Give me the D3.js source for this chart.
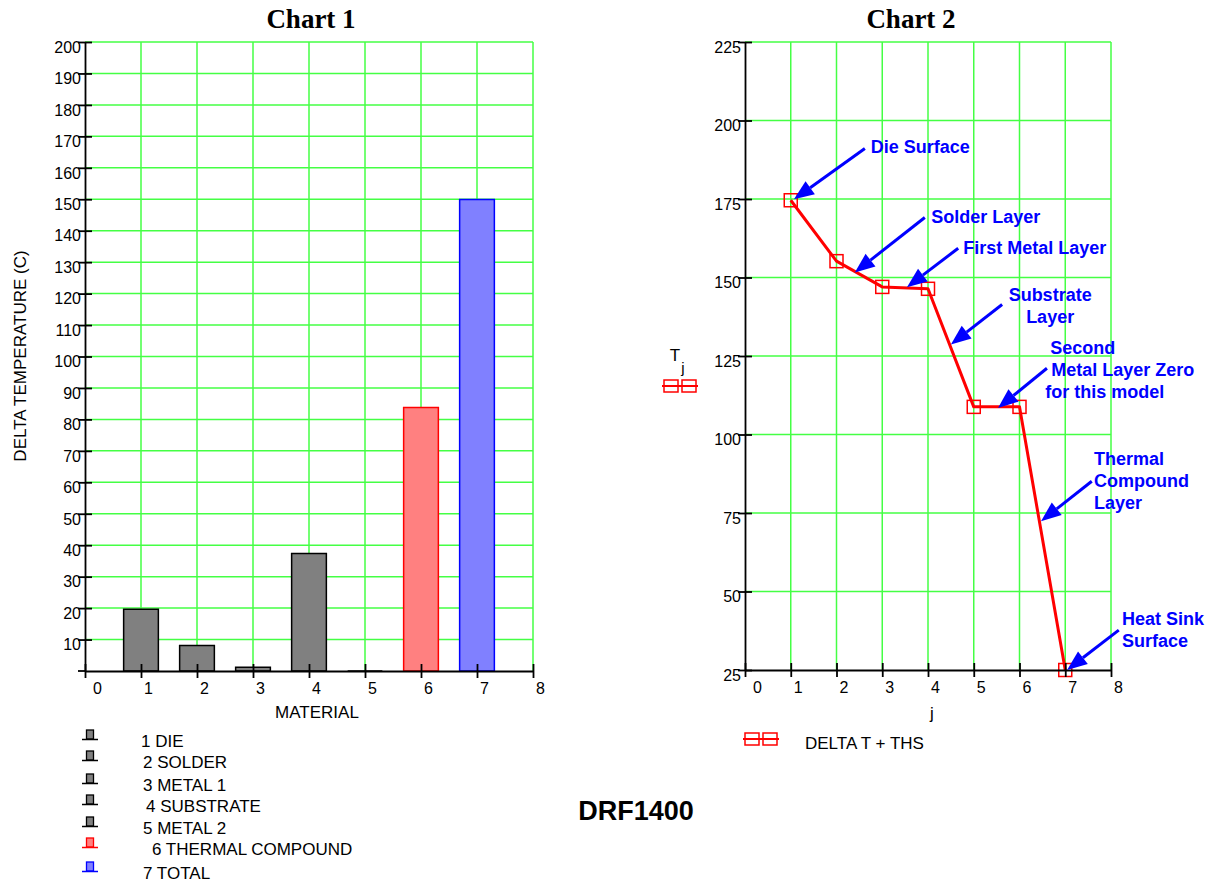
<!DOCTYPE html>
<html>
<head>
<meta charset="utf-8">
<script src="https://cdn.jsdelivr.net/npm/d3@7"></script>
<style>
  body { margin: 0; background: #fff; }
  text { font-family: "Liberation Sans", Arial, Helvetica, sans-serif; }
</style>
</head>
<body>
<svg id="chart" width="1209" height="882"></svg>
<script>
// ---- data ----
const materialIndex = [1, 2, 3, 4, 5, 6, 7];
const materialNames = ["1 DIE", "2 SOLDER", "3 METAL 1", "4 SUBSTRATE", "5 METAL 2", "6 THERMAL COMPOUND", "7 TOTAL"];
const deltaTemp = [19.6, 8.1, 1.2, 37.4, 0, 83.8, 149.9];
const barFill = ["#808080", "#808080", "#808080", "#808080", "#808080", "#ff8080", "#8080ff"];
const barStroke = ["#000000", "#000000", "#000000", "#000000", "#000000", "#ff0000", "#0000ff"];

const layerIndex = [1, 2, 3, 4, 5, 6, 7];
const tj = [174.6, 155.2, 147.0, 146.4, 108.8, 108.8, 25.0];

const xTicks = [0, 1, 2, 3, 4, 5, 6, 7, 8];
const xGrid = [1, 2, 3, 4, 5, 6, 7, 8];
const yTicks1 = [10, 20, 30, 40, 50, 60, 70, 80, 90, 100, 110, 120, 130, 140, 150, 160, 170, 180, 190, 200];
const yTicks2 = [25, 50, 75, 100, 125, 150, 175, 200, 225];
const yGrid2 = [50, 75, 100, 125, 150, 175, 200, 225];

// annotations: text position (data units, first line centre), arrow from -> to (data units)
const notes = [
  { lines: ["Die Surface"], x: 2.75, y: 191.7, anchor: "start", from: [2.62, 191.1], to: [1.07, 174.9] },
  { lines: ["Solder Layer"], x: 4.07, y: 169.4, anchor: "start", from: [3.93, 169.1], to: [2.40, 151.6] },
  { lines: ["First Metal Layer"], x: 4.77, y: 159.3, anchor: "start", from: [4.66, 159.3], to: [3.54, 146.9] },
  { lines: ["Substrate", "Layer"], x: 6.67, y: 144.3, anchor: "middle", from: [5.62, 141.4], to: [4.50, 128.7] },
  { lines: ["Second", "Metal Layer Zero", "for this model"], x: 6.67, y: 127.4, anchor: "start", dx: [0, 1, -5], from: [6.60, 121.1], to: [5.53, 108.4] },
  { lines: ["Thermal", "Compound", "Layer"], x: 7.63, y: 92.1, anchor: "start", from: [7.58, 85.1], to: [6.47, 72.4] },
  { lines: ["Heat Sink", "Surface"], x: 8.24, y: 41.2, anchor: "start", from: [8.17, 37.7], to: [7.04, 25.0] }
];

// ---- setup ----
const svg = d3.select("#chart");
const GRID = "#44ff44";
const FS = 16;   // tick labels
const LFS = 17;  // axis titles and legends

const x1 = d3.scaleLinear().domain([0, 8]).range([85, 533]);
const y1 = d3.scaleLinear().domain([0, 200]).range([671, 42]);
const x2 = d3.scaleLinear().domain([0, 8]).range([745, 1111]);
const y2 = d3.scaleLinear().domain([25, 225]).range([670, 42]);

function drawGrid(g, x, y, xg, yg) {
  g.selectAll("line.vgrid").data(xg).join("line")
    .attr("class", "vgrid")
    .attr("x1", d => x(d)).attr("x2", d => x(d))
    .attr("y1", y.range()[0]).attr("y2", y.range()[1])
    .attr("stroke", GRID).attr("stroke-width", 1.5);
  g.selectAll("line.hgrid").data(yg).join("line")
    .attr("class", "hgrid")
    .attr("x1", x.range()[0]).attr("x2", x.range()[1])
    .attr("y1", d => y(d)).attr("y2", d => y(d))
    .attr("stroke", GRID).attr("stroke-width", 1.5);
}

function drawAxes(g, x, y, yt) {
  const xa = g.append("g")
    .attr("transform", `translate(0,${y.range()[0]})`)
    .call(d3.axisBottom(x).tickValues(xTicks).tickSize(7).tickSizeOuter(0).tickFormat(d3.format("d")));
  xa.select(".domain").attr("stroke-width", 1.8);
  xa.selectAll(".tick line").attr("y1", -7).attr("y2", 7).attr("stroke-width", 1.8);
  xa.selectAll(".tick text")
    .attr("y", 23).attr("dy", 0)
    .attr("dx", d => d === 0 ? 12 : 7)
    .attr("font-size", FS).attr("fill", "#000");
  xa.attr("font-family", null);

  const ya = g.append("g")
    .attr("transform", `translate(${x.range()[0]},0)`)
    .call(d3.axisLeft(y).tickValues(yt).tickSize(7).tickSizeOuter(0));
  ya.select(".domain").attr("stroke-width", 1.8);
  ya.selectAll(".tick line").attr("x1", 7).attr("x2", -7).attr("stroke-width", 1.8);
  ya.selectAll(".tick text")
    .attr("x", -4).attr("dy", "0.64em")
    .attr("font-size", FS).attr("fill", "#000");
  ya.attr("font-family", null);
}

// ---- Chart 1 ----
const c1 = svg.append("g");
drawGrid(c1, x1, y1, xGrid, yTicks1);

const bw = 0.62;
c1.selectAll("path.bar").data(materialIndex).join("path")
  .attr("class", "bar")
  .attr("d", (d, i) => {
    const a = x1(d - bw / 2), b = x1(d + bw / 2), yb = y1(0), ytop = y1(deltaTemp[i]);
    return `M${a},${yb}V${ytop}H${b}V${yb}Z`;
  })
  .attr("fill", (d, i) => barFill[i])
  .attr("stroke", (d, i) => barStroke[i])
  .attr("stroke-width", 1.5);

c1.append("line")
  .attr("x1", x1(0) - 7).attr("x2", x1(0))
  .attr("y1", y1(0)).attr("y2", y1(0))
  .attr("stroke", "#000").attr("stroke-width", 1.8);
drawAxes(c1, x1, y1, yTicks1);

c1.append("text").attr("x", 311).attr("y", 28)
  .attr("text-anchor", "middle")
  .style("font-family", '"Liberation Serif", "Times New Roman", serif')
  .attr("font-weight", "bold").attr("font-size", 27)
  .text("Chart 1");
c1.append("text").attr("x", 317).attr("y", 718)
  .attr("text-anchor", "middle").attr("font-size", LFS)
  .text("MATERIAL");
c1.append("text")
  .attr("transform", "translate(26,356) rotate(-90)")
  .attr("text-anchor", "middle").attr("font-size", LFS)
  .text("DELTA TEMPERATURE (C)");

// legend chart 1
const legY = [735, 756, 779, 800, 822, 843, 867];
const legTx = [141, 143, 143, 146, 143, 152, 143];
const leg1 = c1.append("g");
materialNames.forEach((name, i) => {
  const row = leg1.append("g").attr("transform", `translate(90,${legY[i]})`);
  row.append("rect").attr("x", -3.5).attr("y", -5).attr("width", 7).attr("height", 9)
    .attr("fill", barFill[i]).attr("stroke", barStroke[i]).attr("stroke-width", 1.3);
  row.append("line").attr("x1", -8).attr("x2", 8).attr("y1", 4.5).attr("y2", 4.5)
    .attr("stroke", barStroke[i]).attr("stroke-width", 1.5);
  leg1.append("text").attr("x", legTx[i]).attr("y", legY[i] + 12)
    .attr("font-size", LFS).text(name);
});

// ---- Chart 2 ----
const c2 = svg.append("g");
drawGrid(c2, x2, y2, xGrid, yGrid2);

const line = d3.line().x((d, i) => x2(layerIndex[i])).y(d => y2(d));
c2.append("path").datum(tj)
  .attr("d", line)
  .attr("fill", "none").attr("stroke", "#ff0000").attr("stroke-width", 3)
  .attr("stroke-linejoin", "round");

c2.selectAll("rect.mk").data(tj).join("rect")
  .attr("class", "mk")
  .attr("x", (d, i) => x2(layerIndex[i]) - 6.5)
  .attr("y", d => y2(d) - 6.5)
  .attr("width", 13).attr("height", 13)
  .attr("fill", "none").attr("stroke", "#ff0000").attr("stroke-width", 1.5);

drawAxes(c2, x2, y2, yTicks2);

c2.append("text").attr("x", 911).attr("y", 28)
  .attr("text-anchor", "middle")
  .style("font-family", '"Liberation Serif", "Times New Roman", serif')
  .attr("font-weight", "bold").attr("font-size", 27)
  .text("Chart 2");
c2.append("text").attr("x", 932).attr("y", 719)
  .attr("text-anchor", "middle").attr("font-size", LFS)
  .text("j");
c2.append("text").attr("x", 675).attr("y", 361)
  .attr("text-anchor", "middle").attr("font-size", LFS).text("T");
c2.append("text").attr("x", 683).attr("y", 373)
  .attr("text-anchor", "middle").attr("font-size", 15).text("j");

function seriesSymbol(g, cx, cy) {
  g.append("line").attr("x1", cx - 18).attr("x2", cx + 18).attr("y1", cy).attr("y2", cy)
    .attr("stroke", "#ff0000").attr("stroke-width", 2);
  [-9, 9].forEach(o => {
    g.append("rect").attr("x", cx + o - 7).attr("y", cy - 6).attr("width", 14).attr("height", 12)
      .attr("fill", "none").attr("stroke", "#ff0000").attr("stroke-width", 1.5);
  });
}
seriesSymbol(c2, 680, 386);
seriesSymbol(c2, 761, 739);
c2.append("text").attr("x", 805).attr("y", 749).attr("font-size", LFS).text("DELTA T + THS");

// annotations
const ann = c2.append("g");
notes.forEach(n => {
  const fx = x2(n.from[0]), fy = y2(n.from[1]);
  const tx = x2(n.to[0]), ty = y2(n.to[1]);
  const ang = Math.atan2(ty - fy, tx - fx);
  const L = 20, W = 8;
  const bx = tx - L * Math.cos(ang), by = ty - L * Math.sin(ang);
  ann.append("line").attr("x1", fx).attr("y1", fy).attr("x2", bx).attr("y2", by)
    .attr("stroke", "#0000ff").attr("stroke-width", 3);
  const pts = [
    [tx, ty],
    [bx + W * Math.sin(ang), by - W * Math.cos(ang)],
    [bx - W * Math.sin(ang), by + W * Math.cos(ang)]
  ];
  ann.append("polygon").attr("points", pts.map(p => p.join(",")).join(" "))
    .attr("fill", "#0000ff");
  n.lines.forEach((t, k) => {
    ann.append("text")
      .attr("x", x2(n.x) + (n.dx ? n.dx[k] : 0))
      .attr("y", y2(n.y) + 6 + k * 22)
      .attr("text-anchor", n.anchor)
      .attr("font-size", 18).attr("font-weight", "bold")
      .attr("fill", "#0000ff")
      .text(t);
  });
});

// footer
svg.append("text").attr("x", 636).attr("y", 820)
  .attr("text-anchor", "middle").attr("font-size", 27).attr("font-weight", "bold")
  .text("DRF1400");
</script>
</body>
</html>
